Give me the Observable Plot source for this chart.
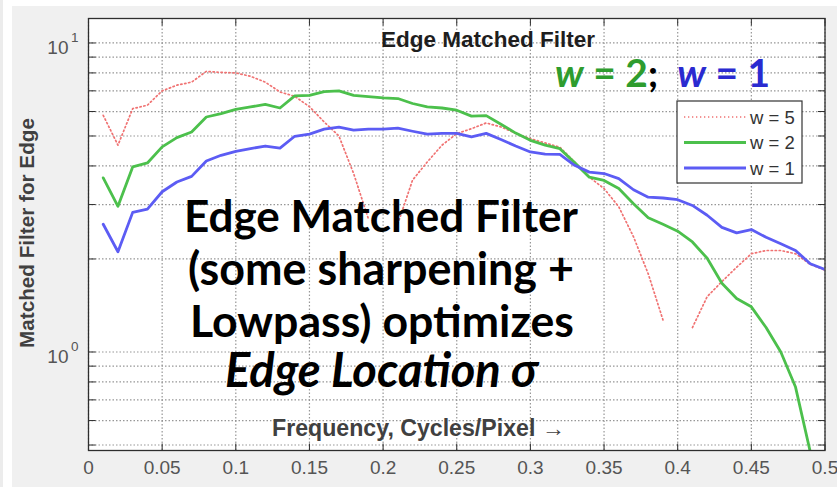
<!DOCTYPE html>
<html><head><meta charset="utf-8">
<script src="https://cdn.jsdelivr.net/npm/d3@7"></script>
<script src="https://cdn.jsdelivr.net/npm/@observablehq/plot@0.6"></script>
<style>body{margin:0;background:#fff;} svg{display:block}</style>
</head><body><div id="chart"></div>
<script>
const freq = [0.01,0.02,0.03,0.04,0.05,0.06,0.07,0.08,0.09,0.10,
              0.11,0.12,0.13,0.14,0.15,0.16,0.17,0.18,0.19,0.20,
              0.21,0.22,0.23,0.24,0.25,0.26,0.27,0.28,0.29,0.30,
              0.31,0.32,0.33,0.34,0.35,0.36,0.37,0.38,0.39,0.40,
              0.41,0.42,0.43,0.44,0.45,0.46,0.47,0.48,0.49,0.50];
const w5 = [5.83,4.67,6.13,6.29,7.00,7.30,7.47,8.09,8.03,8.00,
            7.80,7.47,6.94,6.72,6.22,5.55,5.00,3.78,2.70,null,
            2.60,3.60,4.12,4.67,5.09,5.28,5.51,5.35,5.10,4.90,
            4.75,4.60,4.12,3.68,3.38,2.95,2.36,1.79,1.27,null,
            1.20,1.51,1.69,1.88,2.08,2.13,2.13,2.08,1.92,1.84];
const w2 = [3.66,2.96,3.97,4.09,4.61,4.94,5.15,5.76,5.91,6.10,
            6.21,6.33,6.16,6.74,6.77,6.96,7.00,6.77,6.70,6.64,
            6.61,6.37,6.21,6.16,6.06,5.80,5.82,5.46,5.11,4.84,
            4.67,4.55,4.10,3.68,3.59,3.38,3.02,2.72,2.59,2.46,
            2.27,2.01,1.67,1.49,1.40,1.20,1.00,0.77,0.475,0.30];
const w1 = [2.59,2.11,2.83,2.90,3.30,3.55,3.70,4.15,4.33,4.46,
            4.55,4.64,4.57,4.99,5.07,5.26,5.34,5.22,5.26,5.26,
            5.30,5.18,5.07,5.10,5.10,4.97,5.10,4.87,4.64,4.44,
            4.37,4.36,4.02,3.82,3.78,3.64,3.35,3.17,3.15,3.11,
            2.98,2.77,2.53,2.43,2.49,2.35,2.24,2.13,1.93,1.85];
const seriesNames = ["w = 5", "w = 2", "w = 1"];
const seriesColors = ["#f07272", "#4cc04c", "#5c5cf4"];
const xTicks = [0,0.05,0.1,0.15,0.2,0.25,0.3,0.35,0.4,0.45,0.5];
const xTickLabels = ["0","0.05","0.1","0.15","0.2","0.25","0.3","0.35","0.4","0.45","0.5"];
const yGrid = [0.5,0.6,0.7,0.8,0.9,1,2,3,4,5,6,7,8,9,10];
const yTickValues = [1, 10];
const yTickExponents = ["0", "1"];

const rows = (vals) => freq.map((f, i) => ({f, v: vals[i]}));
const tickSym = (dx, dy) => ({draw(ctx) { ctx.moveTo(0, 0); ctx.lineTo(dx, dy); }});
const axisColor = "#2e2e2e";
const gridStyle = {stroke: "#8c8c8c", strokeWidth: 1.2, strokeDasharray: "1.5,2", strokeOpacity: 0.9};

const chart = Plot.plot({
  width: 837, height: 487,
  marginLeft: 88, marginRight: 12.5, marginTop: 18, marginBottom: 37,
  x: {domain: [0, 0.5], axis: null},
  y: {type: "log", domain: [0.48, 12.0], axis: null},
  style: {background: "transparent", fontFamily: "'Liberation Sans', Arial, sans-serif"},
  marks: [
    Plot.frame({fill: "white", stroke: null}),
    Plot.ruleY(yGrid, {y: d => d, ...gridStyle}),
    Plot.ruleX(xTicks, {x: d => d, ...gridStyle}),
    Plot.line(rows(w5), {x: "f", y: "v", stroke: seriesColors[0], strokeWidth: 1.7, strokeDasharray: "1.3,2.7", clip: true}),
    Plot.line(rows(w2), {x: "f", y: "v", stroke: seriesColors[1], strokeWidth: 2.8, clip: true}),
    Plot.line(rows(w1), {x: "f", y: "v", stroke: seriesColors[2], strokeWidth: 2.8, clip: true}),
    Plot.dot(yGrid, {y: d => d, frameAnchor: "left", symbol: tickSym(7, 0), fill: "none", stroke: axisColor, strokeWidth: 1}),
    Plot.dot(yGrid, {y: d => d, frameAnchor: "right", symbol: tickSym(-7, 0), fill: "none", stroke: axisColor, strokeWidth: 1}),
    Plot.dot(xTicks, {x: d => d, frameAnchor: "bottom", symbol: tickSym(0, -7), fill: "none", stroke: axisColor, strokeWidth: 1}),
    Plot.dot(xTicks, {x: d => d, frameAnchor: "top", symbol: tickSym(0, 7), fill: "none", stroke: axisColor, strokeWidth: 1}),
    Plot.frame({stroke: axisColor, strokeWidth: 1.3}),
    Plot.text(xTicks, {x: d => d, frameAnchor: "bottom", dy: 23, text: (d, i) => xTickLabels[i], fontSize: 19, fill: "#555555"}),
    Plot.text(yTickValues, {y: d => d, frameAnchor: "left", dx: -20, dy: 5, textAnchor: "end", text: () => "10", fontSize: 19, fill: "#555555"}),
    Plot.text(yTickValues, {y: d => d, frameAnchor: "left", dx: -10, dy: -5, textAnchor: "end", text: (d, i) => yTickExponents[i], fontSize: 13.5, fill: "#555555"})
  ]
});
document.getElementById("chart").appendChild(chart);

const s = d3.select(chart);
// figure background
s.insert("rect", ":first-child").attr("x", 12).attr("y", 6).attr("width", 825).attr("height", 481).attr("fill", "#f0f0f0");
s.insert("rect", ":first-child").attr("x", 0).attr("y", 0).attr("width", 3).attr("height", 487).attr("fill", "#ececec");

function fitText(sel, target) {
  const len = sel.node().getComputedTextLength();
  const fs = parseFloat(sel.attr("font-size"));
  if (len > 0) sel.attr("font-size", (fs * target / len).toFixed(2));
  return sel;
}
function addText(str, x, y, opts, target) {
  const t = s.append("text").attr("x", x).attr("y", y).text(str)
    .attr("text-anchor", opts.anchor || "middle")
    .attr("font-family", opts.family)
    .attr("font-weight", opts.weight || "bold")
    .attr("font-style", opts.style || "normal")
    .attr("font-size", opts.size)
    .attr("fill", opts.fill || "#000");
  if (opts.transform) t.attr("transform", opts.transform).attr("x", 0).attr("y", 0);
  if (target) fitText(t, target);
  return t;
}
const sans = "'Liberation Sans', Arial, sans-serif";
const big = "Lato, 'Open Sans', sans-serif";

// axis titles
addText("Edge Matched Filter", 488, 47, {family: sans, size: 21, fill: "#1e1e1e"}, 214);
addText("Frequency, Cycles/Pixel \u2192", 418.5, 436, {family: sans, size: 21, fill: "#404040"}, 293);
addText("Matched Filter for Edge", 0, 0, {family: sans, size: 21, fill: "#404040", transform: "translate(34,233) rotate(-90)"}, 230);

// big annotation
addText("Edge Matched Filter", 381, 232, {family: big, size: 36}, 394);
addText("(some sharpening +", 381, 285, {family: big, size: 36}, 386);
addText("Lowpass) optimizes", 382, 337, {family: big, size: 36}, 384);
addText("Edge Location \u03c3", 381.5, 387, {family: big, size: 36, style: "italic"}, 313);

// w = 2; w = 1
const wt = s.append("text").attr("x", 555).attr("y", 87).attr("text-anchor", "start").attr("font-family", big)
  .attr("font-weight", "bold").attr("font-size", 34).style("white-space", "pre");
wt.append("tspan").attr("font-style", "italic").attr("fill", "#2e9c2e").text("w");
wt.append("tspan").attr("fill", "#2e9c2e").text(" = 2");
wt.append("tspan").attr("fill", "#000").text(";  ");
wt.append("tspan").attr("font-style", "italic").attr("fill", "#2a2ad0").text("w");
wt.append("tspan").attr("fill", "#2a2ad0").text(" = 1");
fitText(wt, 215);

// legend
const lg = s.append("g");
lg.append("rect").attr("x", 677).attr("y", 101).attr("width", 125).attr("height", 82)
  .attr("fill", "white").attr("stroke", "#333").attr("stroke-width", 1.2);
const ly = [117, 142.5, 168];
seriesNames.forEach((name, i) => {
  const ln = lg.append("line").attr("x1", 684).attr("x2", 746).attr("y1", ly[i]).attr("y2", ly[i])
    .attr("stroke", seriesColors[i]).attr("stroke-width", i === 0 ? 1.7 : 2.8);
  if (i === 0) ln.attr("stroke-dasharray", "1.3,2.7");
  lg.append("text").attr("x", 750).attr("y", ly[i] + 6.5).attr("text-anchor", "start").attr("font-family", sans)
    .attr("font-size", 18.5).attr("fill", "#333").text(name);
});
</script>
</body></html>
